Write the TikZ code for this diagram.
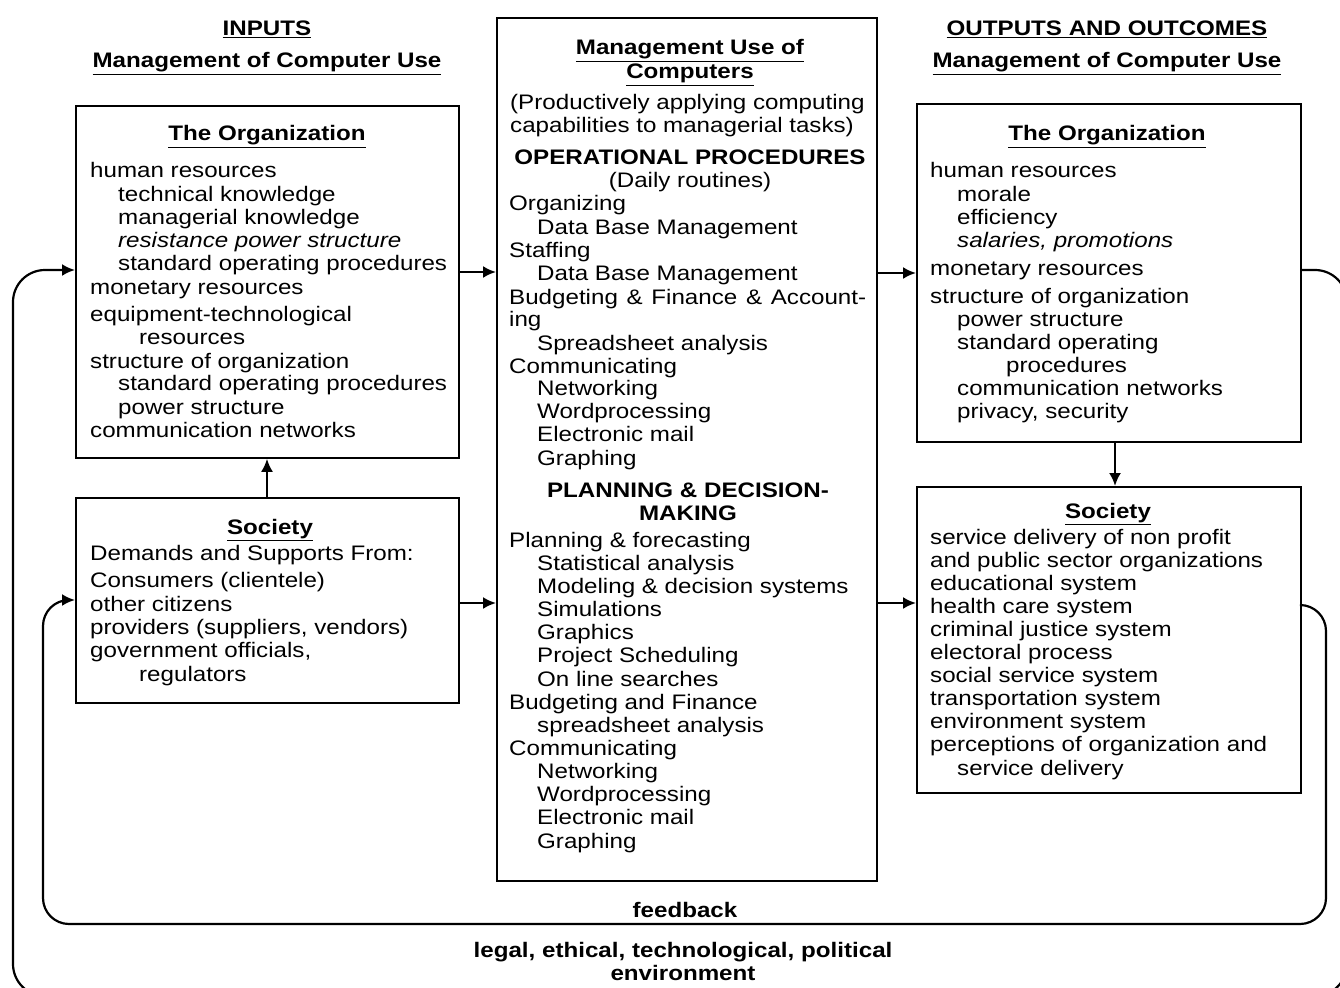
\documentclass[tikz,border=0pt]{standalone}
\usepackage{fontspec}
\setmainfont{Liberation Sans}[FakeStretch=1.15]
\usetikzlibrary{arrows.meta}
\newcommand\fs{\fontsize{21}{23}\selectfont}
\tikzset{
  box/.style={draw, line width=1.8pt, inner sep=0pt, anchor=north west},
  t/.style={anchor=base west, inner sep=0pt, font=\fs},
  tc/.style={anchor=base, inner sep=0pt, font=\fs},
  hd/.style={anchor=base, inner sep=0pt, font=\fs\bfseries},
  arr/.style={line width=2.2pt, -{Latex[length=13pt,width=12pt]}},
}
\begin{document}
\begin{tikzpicture}[x=1pt,y=-1pt]
\useasboundingbox (0,0) rectangle (1340,987);
% boxes
\node[box, minimum width=383pt, minimum height=352pt] (lorg) at (75,105) {};
\node[box, minimum width=383pt, minimum height=205pt] (lsoc) at (75,497) {};
\node[box, minimum width=380pt, minimum height=863pt] (mid) at (496,17) {};
\node[box, minimum width=384pt, minimum height=338pt] (rorg) at (916,103) {};
\node[box, minimum width=384pt, minimum height=306pt] (rsoc) at (916,486) {};
% headers
\node[hd] (h1) at (267,36) {\underline{INPUTS}};
\node[hd] (h2) at (267,68) {\underline{Management of Computer Use}};
\node[hd] (h3) at (1107,36) {\underline{OUTPUTS AND OUTCOMES}};
\node[hd] (h4) at (1107,68) {\underline{Management of Computer Use}};
% left organization
\node[hd] (lorgt) at (267,141) {\underline{The Organization}};
\foreach \x/\y/\tx [count=\i] in {
  90/178/human resources,
  118/201/technical knowledge,
  118/224/managerial knowledge,
  118/247/{\itshape resistance power structure},
  118/270/standard operating procedures,
  90/294/monetary resources,
  90/321/equipment-technological,
  139/344/resources,
  90/368/structure of organization,
  118/390/standard operating procedures,
  118/414/power structure,
  90/437/communication networks}
  \node[t, name=lo\i] at (\x,\y) {\tx};
% left society
\node[hd] (lsoct) at (270,534) {\underline{Society}};
\foreach \x/\y/\tx [count=\i] in {
  90/560/Demands and Supports From:,
  90/587/Consumers (clientele),
  90/611/other citizens,
  90/634/{providers (suppliers, vendors)},
  90/657/{government officials,},
  139/681/regulators}
  \node[t, name=ls\i] at (\x,\y) {\tx};
% middle
\node[hd] (mt1) at (690,55) {\underline{Management Use of}};
\node[hd] (mt2) at (690,79) {\underline{Computers}};
\node[t] (mp1) at (510,110) {(Productively applying computing};
\node[t] (mp2) at (510,133) {capabilities to managerial tasks)};
\node[hd] (mop) at (690,165) {OPERATIONAL PROCEDURES};
\node[tc] (mdr) at (690,188) {(Daily routines)};
\node[t] (mbf) at (509,304) {\makebox[357pt][s]{Budgeting \& Finance \& Account-}};
\foreach \x/\y/\tx [count=\i] in {
  509/211/Organizing,
  537/234/Data Base Management,
  509/257/Staffing,
  537/280/Data Base Management,
  509/326/ing,
  537/350/Spreadsheet analysis,
  509/373/Communicating,
  537/395/Networking,
  537/418/Wordprocessing,
  537/441/Electronic mail,
  537/465/Graphing}
  \node[t, name=ma\i] at (\x,\y) {\tx};
\node[hd] (mpd1) at (688,497) {PLANNING \& DECISION-};
\node[hd] (mpd2) at (688,520) {MAKING};
\foreach \x/\y/\tx [count=\i] in {
  509/547/Planning \& forecasting,
  537/570/Statistical analysis,
  537/593/Modeling \& decision systems,
  537/616/Simulations,
  537/639/Graphics,
  537/662/Project Scheduling,
  537/686/On line searches,
  509/709/Budgeting and Finance,
  537/732/spreadsheet analysis,
  509/755/Communicating,
  537/778/Networking,
  537/801/Wordprocessing,
  537/824/Electronic mail,
  537/848/Graphing}
  \node[t, name=mb\i] at (\x,\y) {\tx};
% right organization
\node[hd] (rorgt) at (1107,141) {\underline{The Organization}};
\foreach \x/\y/\tx [count=\i] in {
  930/178/human resources,
  957/201/morale,
  957/224/efficiency,
  957/247/{\itshape salaries, promotions},
  930/275/monetary resources,
  930/303/structure of organization,
  957/326/power structure,
  957/349/standard operating,
  1006/372/procedures,
  957/395/communication networks,
  957/418/{privacy, security}}
  \node[t, name=ro\i] at (\x,\y) {\tx};
% right society
\node[hd] (rsoct) at (1108,518) {\underline{Society}};
\foreach \x/\y/\tx [count=\i] in {
  930/544/service delivery of non profit,
  930/567/and public sector organizations,
  930/590/educational system,
  930/613/health care system,
  930/636/criminal justice system,
  930/659/electoral process,
  930/682/social service system,
  930/705/transportation system,
  930/728/environment system,
  930/751/perceptions of organization and,
  957/775/service delivery}
  \node[t, name=rs\i] at (\x,\y) {\tx};
% bottom labels
\node[hd] (fb) at (685,917) {feedback};
\node[hd] (env1) at (683,957) {legal, ethical, technological, political};
\node[hd] (env2) at (683,980) {environment};
% connectors
\draw[arr] (lorg.east |- 0,272) -- (mid.west |- 0,272);
\draw[arr] (lsoc.east |- 0,603) -- (mid.west |- 0,603);
\draw[arr] (mid.east |- 0,273) -- (rorg.west |- 0,273);
\draw[arr] (mid.east |- 0,603) -- (rsoc.west |- 0,603);
\draw[arr] (rorg.south -| 1115,0) -- (rsoc.north -| 1115,0);
\draw[arr] (lsoc.north -| 267,0) -- (lorg.south -| 267,0);
% feedback loop
\draw[arr, rounded corners=26pt] (rsoc.east |- 0,605) -- (1326,605) -- (1326,924) -- (43,924) -- (43,600) -- (lsoc.west |- 0,600);
% environment loop
\draw[arr, rounded corners=32pt] (rorg.east |- 0,270) -- (1347,270) -- (1347,996) -- (13,996) -- (13,270) -- (lorg.west |- 0,270);
\end{tikzpicture}
\end{document}
